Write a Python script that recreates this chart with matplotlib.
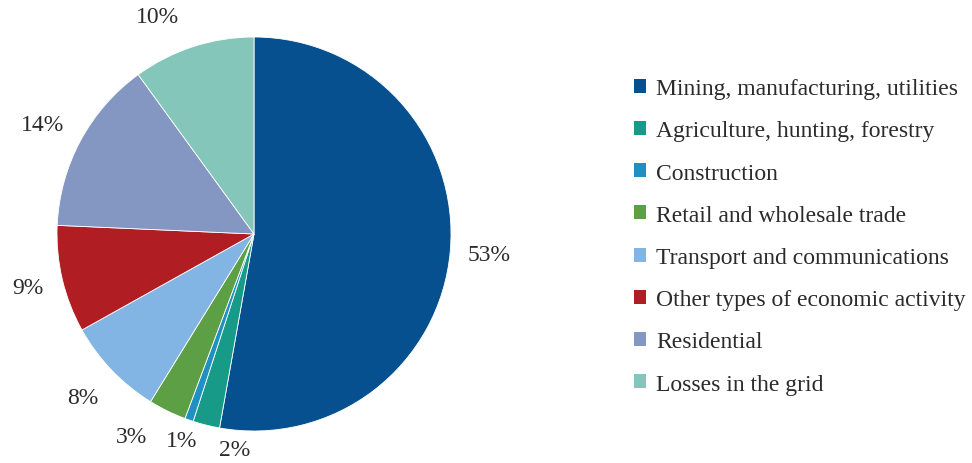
import numpy as np
import matplotlib.pyplot as plt
from matplotlib.patches import Patch

plt.rcParams['font.family'] = ['Liberation Serif', 'DejaVu Serif']

categories = ["Mining, manufacturing, utilities", "Agriculture, hunting, forestry",
              "Construction", "Retail and wholesale trade", "Transport and communications",
              "Other types of economic activity", "Residential", "Losses in the grid"]
shares = [52.8, 2.2, 0.7, 3.1, 8.1, 8.8, 14.3, 10.0]
colors = ["#07508f", "#179a88", "#1f90c2", "#5c9f45", "#82b5e3", "#b01e24", "#8497c2", "#84c6ba"]

# label placement tweaks (radial distance, angle offset in degrees)
label_dist = [1.2, 1.1, 1.11, 1.2, 1.2, 1.18, 1.21, 1.21]
label_shift = [0, 9, 0, -5, 0, 0, 1, 6]

W, H = 972, 464
fig = plt.figure(figsize=(W / 100, H / 100), dpi=100)

# pie box: center (254, 235) px, radius 197 px
cx, cy, r = 254, 235, 197
ax = fig.add_axes([(cx - r) / W, (H - cy - r) / H, 2 * r / W, 2 * r / H])
wedges, _, autotexts = ax.pie(shares, colors=colors, startangle=90, counterclock=False,
                              autopct='%.0f%%', pctdistance=1.2,
                              wedgeprops=dict(edgecolor='white', linewidth=0.6),
                              textprops=dict(fontsize=17, color='#2b2b2b'))
for w, t, d, s in zip(wedges, autotexts, label_dist, label_shift):
    ang = np.deg2rad((w.theta1 + w.theta2) / 2 + s)
    t.set_position((d * np.cos(ang), d * np.sin(ang)))
ax.set_xlim(-1, 1)
ax.set_ylim(-1, 1)
ax.set_aspect('equal')

handles = [Patch(facecolor=c, edgecolor='none') for c in colors]
fig.legend(handles, categories, loc='upper left', bbox_to_anchor=(634 / W, 1 - 79 / H),
           frameon=False, fontsize=17, handlelength=0.52, handleheight=0.52,
           handletextpad=0.42, labelspacing=0.9, borderpad=0, borderaxespad=0,
           labelcolor='#2b2b2b')

fig.savefig('out.png', dpi=100)
